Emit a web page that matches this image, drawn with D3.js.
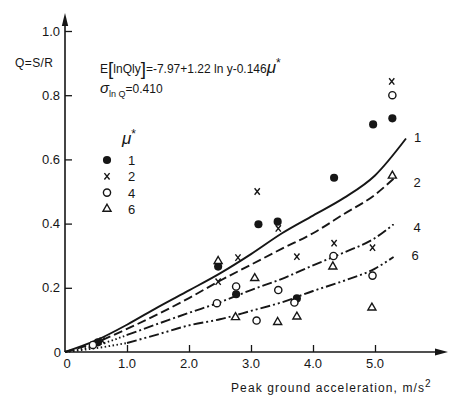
<!DOCTYPE html>
<html><head><meta charset="utf-8">
<script src="https://cdn.jsdelivr.net/npm/d3@7"></script>
<style>
html,body{margin:0;padding:0;background:#fff;}
svg{display:block;font-family:"Liberation Sans",Arial,sans-serif;}
</style></head>
<body>
<svg id="chart" width="449" height="400"></svg>
<script>
// ---- data ----
const xTickValues = [0, 1, 2, 3, 4, 5];
const xTickLabels = ["0", "1.0", "2.0", "3.0", "4.0", "5.0"];
const yTickValues = [0, 0.2, 0.4, 0.6, 0.8, 1.0];
const yTickLabels = ["0", "0.2", "0.4", "0.6", "0.8", "1.0"];
const ductilities = ["1", "2", "4", "6"];

const curveA1 = [0, 0.5, 1.0, 1.5, 2.0, 2.5, 3.0, 3.5, 4.0, 4.5, 5.0, 5.5];
const curveQ1 = [0, 0.036, 0.085, 0.14, 0.192, 0.245, 0.305, 0.37, 0.425, 0.48, 0.55, 0.665];
const curveA = [0, 0.5, 1.0, 1.5, 2.0, 2.5, 3.0, 3.5, 4.0, 4.5, 5.0, 5.3];
const curveQ2 = [0, 0.03, 0.072, 0.118, 0.168, 0.222, 0.272, 0.322, 0.37, 0.43, 0.49, 0.54];
const curveQ4 = [0, 0.02, 0.053, 0.088, 0.122, 0.155, 0.193, 0.228, 0.27, 0.31, 0.355, 0.398];
const curveQ6 = [0, 0.012, 0.028, 0.055, 0.083, 0.102, 0.128, 0.155, 0.19, 0.222, 0.26, 0.296];

const pointsMu1 = [[5.28,0.728],[4.97,0.709],[4.34,0.543],[3.12,0.398],[3.43,0.406],[2.47,0.266],[2.76,0.18],[3.74,0.167],[0.53,0.03]];
const pointsMu2 = [[5.27,0.843],[3.10,0.50],[3.44,0.385],[2.79,0.294],[3.74,0.297],[4.34,0.339],[4.96,0.325],[2.47,0.219],[0.6,0.035]];
const pointsMu4 = [[5.28,0.80],[4.33,0.299],[4.96,0.238],[3.44,0.193],[2.76,0.204],[2.45,0.152],[3.70,0.154],[3.09,0.098],[0.45,0.022]];
const pointsMu6 = [[5.28,0.549],[2.47,0.283],[3.06,0.23],[4.32,0.266],[4.95,0.138],[2.75,0.108],[3.43,0.093],[3.74,0.11]];

// ---- layout ----
const svg = d3.select("#chart");
const ink = "#161616";
const x = d3.scaleLinear().domain([0, 1]).range([65, 127]);
const y = d3.scaleLinear().domain([0, 1]).range([352, 31]);

// axes lines
svg.append("line").attr("x1", x(0)).attr("x2", 440).attr("y1", y(0)).attr("y2", y(0)).attr("stroke", ink).attr("stroke-width", 1.6);
svg.append("line").attr("x1", x(0)).attr("x2", x(0)).attr("y1", y(0)).attr("y2", 20).attr("stroke", ink).attr("stroke-width", 1.6);
svg.append("path").attr("d", `M448,${y(0)} L435,${y(0)-3.5} L435,${y(0)+3.5} Z`).attr("fill", ink);
svg.append("path").attr("d", `M${x(0)},13 L${x(0)-3.2},26 L${x(0)+3.2},26 Z`).attr("fill", ink);

// x axis ticks (inward) via d3 axis
const xAxis = d3.axisTop(x).tickValues(xTickValues.slice(1)).tickSize(7).tickFormat("");
const gx = svg.append("g").attr("transform", `translate(0,${y(0)})`).call(xAxis);
gx.select(".domain").remove();
gx.selectAll("line").attr("stroke", ink).attr("stroke-width", 1.3);
const yAxis = d3.axisRight(y).tickValues(yTickValues.slice(1)).tickSize(7).tickFormat("");
const gy = svg.append("g").attr("transform", `translate(${x(0)},0)`).call(yAxis);
gy.select(".domain").remove();
gy.selectAll("line").attr("stroke", ink).attr("stroke-width", 1.3);

// tick labels
svg.selectAll(".xl").data(xTickValues).enter().append("text")
  .attr("x", d => x(d) + (d === 0 ? 2 : 0)).attr("y", 368).attr("text-anchor", "middle")
  .attr("font-size", 13).attr("fill", ink).text((d, i) => xTickLabels[i]);
svg.selectAll(".yl").data(yTickValues).enter().append("text")
  .attr("x", d => d === 0 ? 61 : 60).attr("y", d => y(d) + 4.5).attr("text-anchor", "end")
  .attr("font-size", 13).attr("fill", ink).text((d, i) => yTickLabels[i]);

// axis titles
svg.append("text").attr("x", 15).attr("y", 67).attr("font-size", 12).attr("fill", ink)
  .attr("textLength", 38).text("Q=S/R");
const xt = svg.append("text").attr("x", 231).attr("y", 392).attr("font-size", 12).attr("fill", ink);
xt.append("tspan").text("Peak ground acceleration, m/s").attr("textLength", 193).attr("lengthAdjust", "spacing");
xt.append("tspan").attr("dy", -5).attr("font-size", 10).text("2");

// equation
const eq = svg.append("text").attr("x", 100).attr("y", 73).attr("font-size", 12).attr("fill", ink);
eq.append("tspan").text("E");
eq.append("tspan").attr("font-size", 19).attr("dy", 2).attr("font-weight", 300).text("[");
eq.append("tspan").attr("dy", -2).text("lnQly");
eq.append("tspan").attr("font-size", 19).attr("dy", 2).attr("font-weight", 300).text("]");
eq.append("tspan").attr("dy", -2).text("=-7.97+1.22 ln y-0.146");
eq.append("tspan").attr("font-size", 17).attr("font-style", "italic").text("\u03BC");
eq.append("tspan").attr("dy", -6).attr("font-size", 12).text("*");
const sg = svg.append("text").attr("x", 100).attr("y", 93).attr("font-size", 12).attr("fill", ink);
sg.append("tspan").attr("font-size", 15).attr("font-style", "italic").text("\u03C3");
sg.append("tspan").attr("dy", 4).attr("font-size", 9).text("ln Q");
sg.append("tspan").attr("dy", -4).text("=0.410");

// curves
const line = d3.line().x(d => x(d[0])).y(d => y(d[1])).curve(d3.curveMonotoneX);
function drawCurve(as, qs, dash, split) {
  const pts = as.map((a, i) => [a, qs[i]]);
  if (split != null) {
    svg.append("path").attr("d", line(pts.filter(p => p[0] <= split))).attr("fill", "none")
      .attr("stroke", ink).attr("stroke-width", 1.9).attr("stroke-dasharray", "1.5,2.5");
    svg.append("path").attr("d", line(pts.filter(p => p[0] >= split))).attr("fill", "none")
      .attr("stroke", ink).attr("stroke-width", 1.9).attr("stroke-dasharray", dash);
  } else {
    svg.append("path").attr("d", line(pts)).attr("fill", "none")
      .attr("stroke", ink).attr("stroke-width", 1.9).attr("stroke-dasharray", dash);
  }
}
drawCurve(curveA1, curveQ1, null, null);
drawCurve(curveA, curveQ2, "9,4", null);
drawCurve(curveA, curveQ4, "10,3,2,3", 1.0);
drawCurve(curveA, curveQ6, "10,3,2,3,2,3", 1.0);

// curve labels
const curveEnds = [[curveA1, curveQ1], [curveA, curveQ2], [curveA, curveQ4], [curveA, curveQ6]];
const labelOffsets = [[8, 3], [20, 8], [20, 8], [18, 3]];
curveEnds.forEach((c, i) => {
  const n = c[0].length - 1;
  svg.append("text").attr("x", x(c[0][n]) + labelOffsets[i][0]).attr("y", y(c[1][n]) + labelOffsets[i][1])
    .attr("font-size", 13).attr("fill", ink).text(ductilities[i]);
});

// markers
const symFilled = d3.symbol().type(d3.symbolCircle).size(52);
const symTri = d3.symbol().type(d3.symbolTriangle).size(28);
function drawMarker(g, kind, px, py) {
  if (kind === 0) {
    g.append("path").attr("d", symFilled()).attr("transform", `translate(${px},${py})`).attr("fill", ink);
  } else if (kind === 1) {
    g.append("path").attr("d", "M-2.6,-3.2 L2.6,3.2 M2.6,-3.2 L-2.6,3.2").attr("transform", `translate(${px},${py})`)
      .attr("stroke", ink).attr("stroke-width", 1.4).attr("fill", "none");
  } else if (kind === 2) {
    g.append("circle").attr("cx", px).attr("cy", py).attr("r", 3.6).attr("fill", "#fff").attr("stroke", ink).attr("stroke-width", 1.4);
  } else {
    g.append("path").attr("d", symTri()).attr("transform", `translate(${px},${py})`)
      .attr("fill", "#fff").attr("stroke", ink).attr("stroke-width", 1.4);
  }
}
const gm = svg.append("g");
[pointsMu1, pointsMu2, pointsMu4, pointsMu6].forEach((arr, k) => {
  arr.forEach(p => drawMarker(gm, k, x(p[0]), y(p[1])));
});

// legend
const lg = svg.append("text").attr("x", 122).attr("y", 144).attr("fill", ink);
lg.append("tspan").attr("font-size", 17).attr("font-style", "italic").text("\u03BC");
lg.append("tspan").attr("dy", -6).attr("font-size", 12).text("*");
ductilities.forEach((d, i) => {
  const ly = 160 + i * 16.3;
  drawMarker(svg, i, 107, ly);
  svg.append("text").attr("x", 128).attr("y", ly + 5).attr("font-size", 13).attr("fill", ink).text(d);
});
</script>
</body></html>
